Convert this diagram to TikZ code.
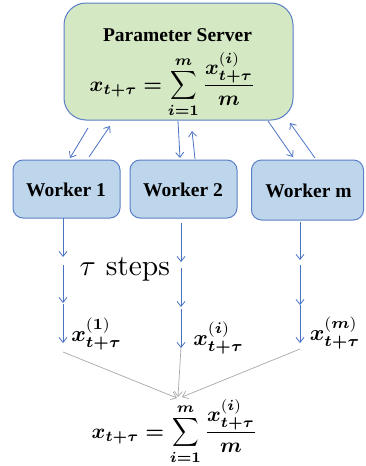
\documentclass[tikz,border=0pt]{standalone}
\usepackage{amsmath}
\usepackage{bm}
\usepackage{graphicx}
\usepackage[no-math]{fontspec}
\newfontfamily\labelfont{Liberation Serif}
\usetikzlibrary{arrows.meta}
\definecolor{psgreen}{HTML}{D5E8C4}
\definecolor{wblue}{HTML}{BDD6EC}
\definecolor{bord}{HTML}{5B7FC7}
\definecolor{arr}{HTML}{4A72C4}
\definecolor{garr}{HTML}{A8A8A8}
\newcommand{\smallsum}{\mathop{\vcenter{\hbox{\scalebox{0.88}[0.95]{$\displaystyle\sum$}}}}\limits}
\newcommand{\avgformula}{\scalebox{2.1}{$\displaystyle \bm{x}_{\bm{t}\bm{+}\bm{\tau}}\bm{=}\smallsum_{\bm{i}\bm{=}\mathbf{1}}^{\bm{m}}\frac{\bm{x}^{\mathbf{(}\bm{i}\mathbf{)}}_{\bm{t}\bm{+}\bm{\tau}}}{\bm{m}}$}}
\newcommand{\locx}[1]{\scalebox{2.22}{$\bm{x}^{\mathbf{(}#1\mathbf{)}}_{\bm{t}\bm{+}\bm{\tau}}$}}
\begin{document}
\begin{tikzpicture}[x=1pt,y=-1pt,
  psbox/.style={draw=bord, fill=psgreen, line width=1pt, rounded corners=22pt, minimum width=229pt, minimum height=117pt, inner sep=0pt},
  wbox/.style={draw=bord, fill=wblue, line width=1pt, rounded corners=10pt, inner sep=0pt},
  wlabel/.style={font=\fontsize{19.5}{22}\labelfont\bfseries, anchor=base, inner sep=0pt},
  formula/.style={font=\normalsize, inner sep=0pt},
  barrow/.style={draw=arr, line width=0.8pt, -{Straight Barb[length=5pt,width=8pt]}},
  garrow/.style={draw=garr, line width=0.7pt, -{Straight Barb[length=5pt,width=8pt]}}]
\useasboundingbox (0,0) rectangle (365,466);

% parameter server
\node[psbox] (ps) at (178.5,61.5) {};
\node[wlabel] (pst) at (177.5,41) {Parameter Server};
\node[formula] (psf) at (172.5,85) {\avgformula};

% workers
\node[wbox, minimum width=107pt, minimum height=58pt] (w1) at (66.5,189) {};
\node[wlabel] (w1t) at (66,196) {Worker 1};
\node[wbox, minimum width=107pt, minimum height=58pt] (w2) at (183.5,189) {};
\node[wlabel] (w2t) at (183,196) {Worker 2};
\node[wbox, minimum width=112pt, minimum height=60pt] (wm) at (307.5,190) {};
\node[wlabel] (wmt) at (308.5,197) {Worker m};

% PS <-> worker arrows
\coordinate (d1a) at (88,128);  \coordinate (d1b) at (70,158);
\coordinate (u1a) at (89,157);  \coordinate (u1b) at (110,126);
\coordinate (d2a) at (178,121); \coordinate (d2b) at (180,158);
\coordinate (u2a) at (195,159); \coordinate (u2b) at (192,131);
\coordinate (dma) at (268,121); \coordinate (dmb) at (293,157);
\coordinate (uma) at (315,158); \coordinate (umb) at (290,123);
\draw[barrow] (d1a) -- (d1b);
\draw[barrow] (u1a) -- (u1b);
\draw[barrow] (d2a) -- (d2b);
\draw[barrow] (u2a) -- (u2b);
\draw[barrow] (dma) -- (dmb);
\draw[barrow] (uma) -- (umb);

% tau steps
\node[font=\normalsize, anchor=base west, inner sep=0pt] (tau) at (79.5,275) {\scalebox{2.95}{$\tau$ steps}};

% vertical chains
\coordinate (a1) at (63,218);  \coordinate (b1) at (63,257);
\coordinate (c1) at (63,265);  \coordinate (e1) at (63,303);
\coordinate (f1) at (63,304);  \coordinate (g1) at (63,343);
\coordinate (a2) at (181,223); \coordinate (b2) at (181,262);
\coordinate (c2) at (181,268); \coordinate (e2) at (181,307);
\coordinate (f2) at (181,309); \coordinate (g2) at (181,348);
\coordinate (am) at (300,222); \coordinate (bm) at (300,260);
\coordinate (cm) at (300,265); \coordinate (em) at (300,305);
\coordinate (fm) at (300,305); \coordinate (gm) at (300,343);
\draw[barrow] (a1) -- (b1);
\draw[barrow] (c1) -- (e1);
\draw[barrow] (f1) -- (g1);
\draw[barrow] (a2) -- (b2);
\draw[barrow] (c2) -- (e2);
\draw[barrow] (f2) -- (g2);
\draw[barrow] (am) -- (bm);
\draw[barrow] (cm) -- (em);
\draw[barrow] (fm) -- (gm);

% local results
\node[formula] (x1) at (96.5,334) {\locx{\mathbf{1}}};
\node[formula] (xi) at (218.5,338.5) {\locx{\bm{i}}};
\node[formula] (xm) at (335,333.5) {\locx{\bm{m}}};

% final average
\node[formula] (fin) at (174.5,432) {\avgformula};
\coordinate (h1) at (63,352);  \coordinate (k1) at (177,398);
\coordinate (h2) at (181,347); \coordinate (k2) at (178,397);
\coordinate (hm) at (300,349); \coordinate (km) at (182,397);
\draw[garrow] (h1) -- (k1);
\draw[garrow] (h2) -- (k2);
\draw[garrow] (hm) -- (km);
\end{tikzpicture}
\end{document}
